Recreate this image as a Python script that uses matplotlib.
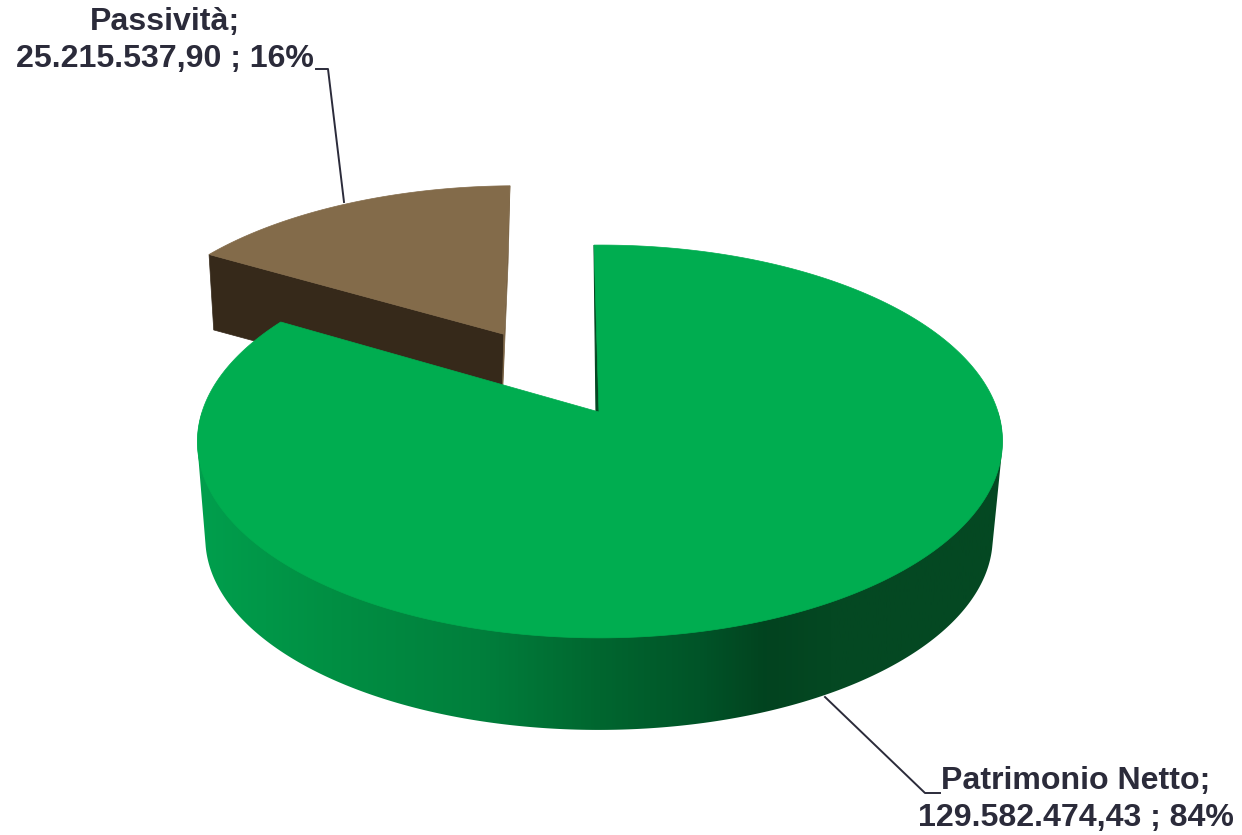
import numpy as np
import matplotlib
matplotlib.use("Agg")
import matplotlib.pyplot as plt
from matplotlib.colors import LinearSegmentedColormap
from matplotlib.patches import Polygon

plt.rcParams["font.family"] = ["Liberation Sans", "DejaVu Sans"]

labels = ["Patrimonio Netto", "Passività"]
values = [129582474.43, 25215537.90]
value_labels = ["129.582.474,43", "25.215.537,90"]
percent_labels = ["84%", "16%"]

W, H = 1242, 835
# proiezione prospettica del disco (pixel)
X0, Y0 = 604, 412
A, B, K = 398.0, 192.0, 0.15
SHRINK = 0.978
GREEN_DROP, BROWN_DROP = 97.0, 72.0
EXPLODE = 0.5
START = np.radians(-1.08)
TEXT = "#2b2b3a"

# sfumatura del lato verde, in funzione della x sullo schermo
GRAD_X0, GRAD_X1 = 197, 1003
green_side = LinearSegmentedColormap.from_list(
    "green_side", [(0, "#009f4d"), (0.165, "#008f43"), (0.351, "#007f3c"),
                   (0.5, "#00662f"), (0.624, "#005428"), (0.707, "#02431f"),
                   (0.785, "#044822"), (1, "#044822")])


def project(u, v, drop=None, dx=0.0):
    w = 1 - K * v
    if drop is None:
        return np.column_stack([X0 + A * u / w, Y0 + B * v / w])
    return np.column_stack([X0 + dx + SHRINK * A * u / w,
                            Y0 + SHRINK * B * v / w + drop])


def circle(t, off):
    # t in senso orario dalle ore 12, v positivo verso chi guarda
    return off[0] + np.sin(t), off[1] - np.cos(t)


def hull(points):
    # inviluppo convesso (monotone chain)
    pts = sorted(map(tuple, points))

    def half(seq):
        out = []
        for p in seq:
            while len(out) > 1 and ((out[-1][0] - out[-2][0]) * (p[1] - out[-2][1])
                                    - (out[-1][1] - out[-2][1]) * (p[0] - out[-2][0])) <= 0:
                out.pop()
            out.append(p)
        return out[:-1]

    return np.array(half(pts) + half(pts[::-1]))


def face(ax, us, vs, color, z, drop, dx=0.0):
    pts = np.vstack([project(us, vs), project(us[::-1], vs[::-1], drop, dx)])
    ax.add_patch(Polygon(pts, closed=True, fc=color, ec=color, lw=0.5, zorder=z))


fig = plt.figure(figsize=(W / 100, H / 100), dpi=100)
ax = fig.add_axes([0, 0, 1, 1])

frac = np.array(values) / sum(values)
green_end = START + 2 * np.pi * frac[0]
rim_off = (-0.01, 0.0)
apex = (-0.0126, 0.0)
mid = (green_end + START + 2 * np.pi) / 2
brown_off = (-0.015 + EXPLODE * np.sin(mid), -EXPLODE * np.cos(mid))

# fetta marrone (staccata)
ub, vb = circle(green_end, brown_off)
face(ax, np.array([brown_off[0], ub]), np.array([brown_off[1], vb]), "#36291a", 1, BROWN_DROP, -4.0)
ub, vb = circle(START, brown_off)
face(ax, np.array([brown_off[0], ub]), np.array([brown_off[1], vb]), "#7a6344", 1, BROWN_DROP, -4.0)
t = np.linspace(green_end, START + 2 * np.pi, 120)
cu, cv = circle(t, brown_off)
pts = np.vstack([project(np.array([brown_off[0]]), np.array([brown_off[1]])), project(cu, cv)])
ax.add_patch(Polygon(pts, closed=True, fc="#836b4a", ec="#836b4a", lw=0.5, zorder=2))

# fetta verde: lato con sfumatura, ritagliato sulla sagoma del cilindro
t = np.linspace(START, green_end, 800)
cu, cv = circle(t, rim_off)
top_pts = project(cu, cv)
near = cv > 0
low_pts = project(cu[near], cv[near], GREEN_DROP, -1.0)
side = Polygon(hull(np.vstack([top_pts[near], low_pts])), closed=True, fc="none", ec="none",
               transform=ax.transData)
ax.add_patch(side)
img = ax.imshow(np.linspace(0, 1, 512).reshape(1, -1), cmap=green_side, aspect="auto",
                extent=[GRAD_X0, GRAD_X1, H, 0], zorder=3)
img.set_clip_path(side)

# striscia scura sul taglio alle ore 12
ub, vb = circle(START, rim_off)
strip_u = np.array([ub, apex[0], apex[0] - 0.0075])
strip_v = np.array([vb, apex[1], apex[1]])
strip = project(strip_u, strip_v)
ax.add_patch(Polygon(strip, closed=True, fc="#044822", ec="#044822", lw=0.8, zorder=3))

pts = np.vstack([project(np.array([apex[0]]), np.array([apex[1]])), top_pts])
ax.add_patch(Polygon(pts, closed=True, fc="#00ad50", ec="#00ad50", lw=0.5, zorder=4))

ax.set_xlim(0, W)
ax.set_ylim(H, 0)
ax.axis("off")

# linee guida
ax.plot([344, 328, 316], [202, 69, 69], color=TEXT, lw=1.4, zorder=5)
ax.plot([825, 925, 940], [697, 793, 793], color=TEXT, lw=1.4, zorder=5)

# etichette
ax.text(164.5, 40.5, f"{labels[1]};\n{value_labels[1]} ; {percent_labels[1]}",
        ha="center", va="center", fontsize=23.1, fontweight="bold", color=TEXT,
        linespacing=1.33, zorder=6)
ax.text(1076, 799.5, f"{labels[0]};\n{value_labels[0]} ; {percent_labels[0]}",
        ha="center", va="center", fontsize=23.1, fontweight="bold", color=TEXT,
        linespacing=1.33, zorder=6)

fig.savefig("out.png", dpi=100)
